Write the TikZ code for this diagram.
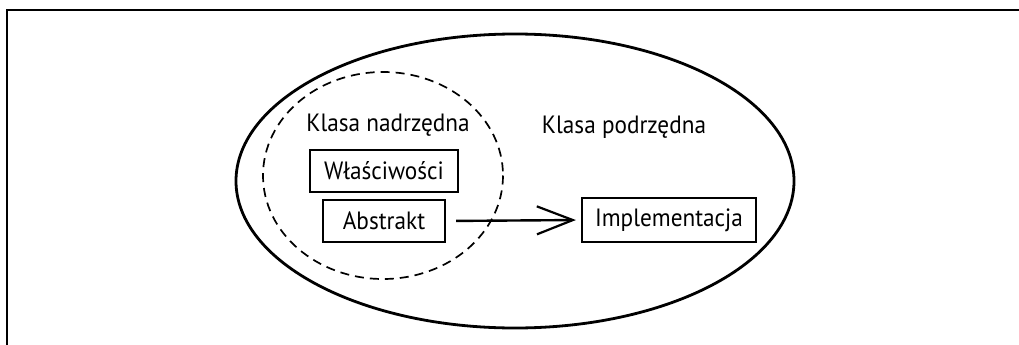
\documentclass[tikz,border=0pt]{standalone}
\usepackage{fontspec}
\setmainfont[FakeStretch=0.93]{PT Sans}
\usetikzlibrary{arrows.meta,shapes.geometric}
\tikzset{
  sketchbox/.style={draw, line width=2.2pt, minimum height=42pt, inner sep=0pt, font=\fontsize{25}{29}\selectfont},
  label/.style={font=\fontsize{25}{29}\selectfont, inner sep=0pt},
  conn/.style={line width=2.4pt, -{Straight Barb[length=36pt,width=28pt,line width=2.2pt]}}
}
\begin{document}
\begin{tikzpicture}[x=1pt,y=-1pt]
\useasboundingbox (0,0) rectangle (1019,345);
% frame
\draw[line width=2.2pt] (1019,10) -- (7,10) -- (7,345);
% outer ellipse
\draw[line width=2.8pt] (515,181) ellipse [x radius=279, y radius=147];
% dashed ellipse
\draw[line width=1.7pt, dash pattern=on 9pt off 6pt] (383,175.5) ellipse [x radius=120, y radius=103.5];
% labels
\node[label] (super) at (388,125) {Klasa nadrzędna};
\node[label] (sub) at (624,127) {Klasa podrzędna};
% boxes
\node[sketchbox, minimum width=148pt] (props) at (384,171) {Właściwości};
\node[sketchbox, minimum width=122pt] (abs) at (384,221) {Abstrakt};
\node[sketchbox, minimum width=174pt, minimum height=44pt] (impl) at (669,220) {Implementacja};
% connector
\draw[conn, shorten <=10pt, shorten >=5pt] (abs.east) -- (impl.west);
\end{tikzpicture}
\end{document}
